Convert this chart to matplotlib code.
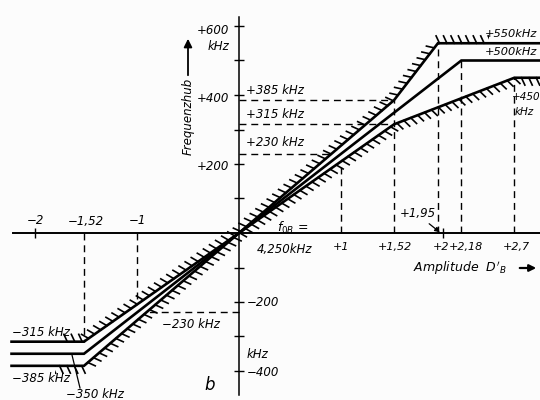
import matplotlib
matplotlib.use("Agg")
import matplotlib.pyplot as plt
import matplotlib.patheffects as pe
from matplotlib.patches import Rectangle, FancyArrowPatch

# ---------------- data ----------------
# amplitude D'_B (x) vs frequency deviation in kHz (y)
upper_x = [-2.23, -1.52, 0.0, 1.52, 1.95, 2.95]
upper_y = [-315, -315, 0, 385, 550, 550]
middle_x = [-2.23, -1.52, 0.0, 2.18, 2.95]
middle_y = [-350, -350, 0, 500, 500]
lower_x = [-2.23, -1.52, 0.0, 1.52, 2.70, 2.95]
lower_y = [-385, -385, 0, 315, 450, 450]

# dashed reference lines: horizontal (level, x end) and vertical (x, y end)
h_ref_levels = [385, 315, 230, -230]
h_ref_xend = [1.52, 1.52, 0.909, -0.909]
v_ref_x = [-1.52, -1.0, 1.0, 1.52, 1.95, 2.18, 2.70]
v_ref_yend = [-315, -207, 207, 385, 550, 500, 450]

y_ticks = [-400, -300, -200, -100, 100, 200, 300, 400, 500, 600]
x_ticks = [-2, 2]

W, H = 540, 400
fig = plt.figure(figsize=(5.4, 4.0), dpi=100)
fig.patch.set_facecolor("#fcfcfc")
ax = fig.add_axes([0, 0, 1, 1])
ax.set_facecolor("none")
ax.set_xlim((0 - 239) / 102, (540 - 239) / 102)
ax.set_ylim((233 - 400) / 0.345, (233 - 0) / 0.345)

# axes through origin
for s in ["top", "right"]:
    ax.spines[s].set_visible(False)
ax.spines["left"].set_position(("data", 0))
ax.spines["bottom"].set_position(("data", 0))
ax.spines["left"].set_bounds(-470, 625)
ax.spines["bottom"].set_bounds(-2.22, 2.95)
ax.spines["left"].set_linewidth(1.1)
ax.spines["bottom"].set_linewidth(1.4)
ax.set_yticks(y_ticks)
ax.set_xticks(x_ticks)
ax.tick_params(direction="inout", length=7, width=1.0, labelleft=False,
               labelbottom=False)

# dashed reference lines
dash = dict(color="black", lw=1.0, ls=(0, (5, 3.5)))
for lvl, xe in zip(h_ref_levels, h_ref_xend):
    ax.plot([0, xe], [lvl, lvl], **dash)
for xv, ye in zip(v_ref_x, v_ref_yend):
    ax.plot([xv, xv], [0, ye], **dash)

# main curves
for xs, ys in [(middle_x, middle_y), (upper_x, upper_y), (lower_x, lower_y)]:
    ax.plot(xs, ys, color="black", lw=1.9, solid_joinstyle="miter")

# hatching (tolerance bounds), clipped to the hatched stretch
hatch_up, = ax.plot(upper_x, upper_y, lw=0, color="black",
                    path_effects=[pe.withTickedStroke(spacing=5.3, angle=115,
                                                      length=1.1, linewidth=1.2,
                                                      foreground="black")])
hatch_up.set_clip_path(Rectangle((-1.75, -1000), 4.2, 3000, transform=ax.transData))
hatch_lo, = ax.plot(lower_x, lower_y, lw=0, color="black",
                    path_effects=[pe.withTickedStroke(spacing=5.3, angle=-65,
                                                      length=1.1, linewidth=1.2,
                                                      foreground="black")])
hatch_lo.set_clip_path(Rectangle((-1.8, -1000), 6, 3000, transform=ax.transData))

# ---------------- texts (pixel placement) ----------------
def T(px, py, s, ha="left", va="center", size=8.5, **kw):
    fig.text(px / W, 1 - py / H, s, ha=ha, va=va, fontsize=size,
             style="italic", family="DejaVu Sans", **kw)

def A(p0, p1, lw=1.0, hw=10):
    fig.add_artist(FancyArrowPatch(
        (p0[0] / W, 1 - p0[1] / H), (p1[0] / W, 1 - p1[1] / H),
        transform=fig.transFigure, arrowstyle="-|>", color="black", lw=lw,
        mutation_scale=hw))

# y-axis labels
T(229, 30, "+600", ha="right")
T(229, 47, "kHz", ha="right")
T(229, 98, "+400", ha="right")
T(229, 167, "+200", ha="right")
T(247, 302, "\u2212200")
T(247, 355, "kHz")
T(247, 372, "\u2212400")
T(188, 116, "Frequenzhub", ha="center", rotation=90)
A((188, 78), (188, 36), lw=1.3, hw=12)

# level labels
T(246, 90, "+385 kHz")
T(246, 115, "+315 kHz")
T(246, 142, "+230 kHz")
T(485, 34, "+550kHz", size=8.2)
T(485, 52, "+500kHz", size=8.2)
T(512, 97, "+450", size=7.5)
T(515, 112, "kHz", size=7.5)

# x labels
for px, s in [(341, "+1"), (395, "+1,52"), (441, "+2"), (466, "+2,18"), (516, "+2,7")]:
    T(px, 247, s, ha="center", size=8)
for px, s in [(35, "\u22122"), (86, "\u22121,52"), (137, "\u22121")]:
    T(px, 221, s, ha="center")
T(400, 213, "+1,95")
A((427, 222), (442, 234), lw=0.9, hw=7)
T(413, 268, "Amplitude  $D'_B$", size=9)
A((517, 268), (539, 268), lw=1.6, hw=10)

T(277, 228, "$f_{0B}$ =", size=9)
T(257, 250, "4,250kHz")

# left labels
T(12, 333, "\u2212315 kHz")
T(12, 378, "\u2212385 kHz")
T(66, 395, "\u2212350 kHz")
fig.add_artist(plt.Line2D([72 / W, 80 / W], [1 - 355 / H, 1 - 388 / H],
                          color="black", lw=0.9, transform=fig.transFigure))
T(162, 324, "\u2212230 kHz")
T(210, 385, "b", ha="center", size=12)

fig.savefig("out.png", dpi=100, facecolor=fig.get_facecolor())
